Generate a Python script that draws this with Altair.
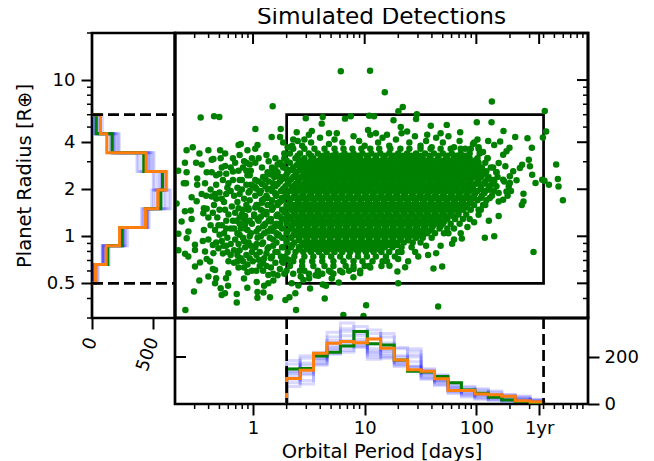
import altair as alt
import pandas as pd

# ---- scatter: log10(period), log10(radius)
sparse_outer = [
(.786,1.056),(1.048,1.059),(1.18,.922),(2.139,.862),(.176,.832),(1.341,.828),(1.302,.80),(2.613,.802),
(-.469,.76),(-.349,.768),(-.302,.764),(.472,.755),(.624,.764),(.824,.753),(.875,.768),(1.04,.772),(1.084,.768),
(1.467,.781),(1.46,.751),(1.258,.743),(2.004,.73),(2.136,.73),(.615,.721),(1.323,.7),(1.592,.708),(1.735,.713),
(.021,.687),(.248,.687),(2.243,.674),(2.625,.67),(1.855,.666),(.391,.666),(.526,.674),(.167,.636),(.242,.636),
(2.596,.632),(2.348,.636),(2.458,.627),(2.106,.61),(2.16,.584),(2.213,.606),(2.497,.567),(2.297,.567),
(2.715,.46),(2.73,.366),(2.736,.319),(2.775,.23),(2.422,.272),(2.422,.223),(2.407,.2),(2.512,-.1),(2.076,-.01),
(2.16,0),(2.2,.13),(2.112,.1),(2.02,.138),(1.87,-.014),(1.783,-.048),(1.64,-.108),(1.568,-.12),(1.452,-.1),
(1.616,-.206),(1.694,-.193),(1.362,-.198),(1.389,-.159),(1.3,-.146),(1.222,-.189),(1.293,-.225),(.959,-.236),
(.899,-.262),(1.3,-.3),(.768,-.296),(.705,-.27),(.696,-.228),(.624,-.309),(.654,-.317),(.511,-.334),(.585,-.253),
(.502,-.27),(.427,-.257),(.451,-.279),(.346,-.3),(.406,-.315),(.379,-.364),(.326,-.39),(.29,-.407),(.642,-.398),
(.385,-.471),(1.013,-.441),(1.658,-.45),(.809,-.503),(.989,-.51),
]
sparse_top = [
(.52,.60),(.6,.63),(.68,.59),(.73,.62),(.8,.60),(.9,.64),(.95,.61),(1.0,.58),(1.05,.65),(1.12,.6),(1.16,.63),
(1.22,.58),(1.28,.62),(1.33,.66),(1.4,.6),(1.45,.64),(1.5,.58),(1.55,.61),(1.6,.57),(1.64,.63),(1.7,.6),(1.75,.64),
(1.8,.57),(1.85,.61),(1.9,.56),(1.97,.59),(2.01,.62),(.44,.58),(.4,.61),(.5,.65),(.68,.66),(1.03,.68),(1.1,.66),
(1.2,.65),(1.38,.67),(1.56,.65),(1.68,.66),(.35,.58),(.46,.62),(.75,.66),
]
sparse_right = [
(2.09,.416),(2.24,.362),(2.30,.384),(2.36,.358),(2.33,.416),(2.41,.458),(2.39,.437),(2.48,.448),(2.47,.49),
(2.26,.448),(2.2,.469),(2.24,.522),(2.27,.544),(2.5,.394),(2.53,.341),(2.59,.362),(2.65,.33),(2.61,.356),
(2.12,.298),(2.2,.277),(2.27,.287),(2.2,.223),(2.24,.234),(2.12,.245),(2.3,.341),(2.15,.36),(2.18,.41),
(2.1,.5),(2.15,.44),(2.06,.54),(2.02,.57),(1.98,.60),(2.08,.2),(2.04,.17),(1.98,.09),(1.92,.06),(1.86,.02),
(1.8,-.02),(1.75,.02),(1.68,-.06),(1.55,-.06),(1.48,-.13),
]
sparse_left = [
(-.606,-.471),(-.146,-.424),(.039,-.394),(.152,-.39),(.093,-.36),(.039,-.356),(-.051,-.33),(-.281,-.375),
(-.251,-.364),(-.29,-.332),(-.224,-.317),(-.146,-.369),(-.529,-.353),(-.481,-.283),(-.4,-.257),(-.34,-.3),
(-.33,-.268),(-.242,-.268),(-.221,-.236),(-.081,-.27),(.033,-.292),(.137,-.247),(.182,-.283),(.137,-.3),
(.099,-.317),(-.52,-.193),(-.475,-.168),(-.34,-.215),(-.36,-.21),(-.58,-.129),(-.609,-.112),(-.669,-.09),
(-.415,-.146),(-.385,-.161),(-.43,-.097),(-.355,-.108),(-.52,-.087),(-.52,-.054),(-.594,-.012),(-.579,.031),
(-.669,.016),(-.36,-.055),(-.31,-.076),(-.265,-.06),(-.64,.095),(-.55,.11),(-.61,.16),(-.558,.165),(-.445,.148),
(-.415,.176),(-.685,.21),(-.55,.25),(-.505,.225),(-.46,.27),(-.37,.255),(-.34,.27),(-.595,.41),(-.61,.47),
(-.51,.47),(-.46,.46),(-.4,.55),(-.48,.53),(-.595,.55),(-.54,.57),(-.37,.49),(-.355,.495),(-.67,.42),(-.5,.37),
(-.415,.41),(-.37,.41),(-.295,.55),(-.25,.53),(-.29,.50),(-.25,.45),(-.60,.34),(-.62,.34),(-.5,.33),(-.43,.34),
(-.33,.39),(-.3,.40),(-.18,.415),(-.13,.585),(-.11,.59),(.04,.585),(-.18,.50),(-.12,.52),(.02,.56),(-.05,.55),
(-.22,.34),(-.2,.29),(-.3,.28),(-.26,.22),(-.35,.20),(-.4,.12),(-.32,.12),(-.28,.07),(-.22,.14),(-.2,.05),
(-.26,.02),(-.34,.04),(-.44,.04),(-.4,-.02),(-.45,-.03),(-.28,-.03),(-.2,-.05),(-.15,.10),(-.16,-.02),(-.23,-.1),
(-.17,-.09),(-.12,-.09),(-.11,-.14),(-.17,-.17),(-.09,-.16),(-.05,-.18),(0,-.16),(.06,-.19),(.03,-.22),(-.05,-.23),
(-.13,-.2),(.1,-.14),(.12,-.11),(.16,-.2),(.22,-.25),(.28,-.24),(.24,-.21),(-.12,.36),(-.06,.42),(-.03,.46),
(-.08,.48),(-.01,.5),(.08,.44),(.14,.48),(.2,.5),(.22,.46),(.12,.52),(.28,.53),(.31,.57),(.27,.60),(.36,.62),
(-.1,.30),(-.14,.22),(-.09,.17),(-.16,.15),(-.05,.39),(-.02,.33),
(-.28,.44),(-.24,.40),(-.2,.44),(-.16,.47),(-.13,.42),(-.09,.44),(-.06,.47),(-.02,.42),(.02,.47),(.05,.5),
(-.27,.36),(-.23,.31),(-.18,.36),(-.14,.31),(-.1,.36),(-.06,.33),(-.03,.39),(.02,.36),(-.33,.33),(-.28,.24),
(-.24,.27),(-.17,.26),(-.12,.27),(-.08,.24),(-.04,.28),(-.33,.24),(-.38,.3),(-.42,.26),(-.3,.17),(-.25,.17),
(-.19,.19),(-.13,.18),(-.07,.13),(-.04,.18),(-.36,.15),(-.44,.18),(-.24,.1),(-.18,.1),(-.12,.12),(-.07,.08),
(-.03,.1),(-.38,.07),(-.31,.07),(-.24,.05),(-.17,.05),(-.11,.05),(-.05,.04),(-.3,.01),(-.23,-.01),(-.12,.01),
(-.08,-.03),(-.03,0),(-.33,-.04),(-.24,-.06),(-.13,-.05),(-.07,-.07),(-.02,-.06),(-.27,-.11),(-.2,-.12),
(-.14,-.12),(-.06,-.12),(-.01,-.1),(.03,-.12),(-.22,-.16),(-.14,-.16),(-.03,-.14),(.05,-.15),(.09,-.17),
(.12,-.19),(.2,-.17),(.16,-.14),(-.01,-.22),(.09,-.22),(.18,-.24),(-.08,-.2),(.25,-.13),(.27,-.17),(.32,-.15),
(.3,-.22),(.36,-.24),(.42,-.22),(.5,-.24),(.56,-.25),(.62,-.24),(.72,-.24),(.8,-.23),(.9,-.21),(1.05,-.2),
(1.15,-.19),(1.2,-.16),(1.3,-.1),
(.02,.31),(.06,.28),(.1,.24),(.13,.3),(.18,.34),(.2,.27),(.24,.22),(.04,.2),(.09,.16),(.16,.2),(.21,.13),
(.01,.13),(.05,.1),(.1,.07),(.14,.1),(.19,.06),(.24,.08),(.03,.03),(.07,.0),(.13,.03),(.18,-.02),(.23,.01),
(.08,-.05),(.13,-.08),(.18,-.06),(.22,-.1),(.27,-.07),(.03,-.05),(.11,.38),(.17,.41),(.24,.38),(.3,.43),
]
# rows of the dense cloud: log10(radius) -> log10(period)
dense_rows = {
.56: [.36,.46,.55,.64,.73,.81,.89,.97,1.05,1.13,1.23,1.32,1.4,1.5,1.59,1.68,1.77,1.86,1.95,2.02],
.53: [.33,.42,.5,.58,.66,.74,.82,.9,.98,1.06,1.14,1.22,1.3,1.38,1.46,1.54,1.62,1.7,1.78,1.86,1.94,2.03],
.50: [.28,.38,.46,.54,.61,.68,.75,.82,.89,.96,1.03,1.1,1.17,1.24,1.31,1.38,1.45,1.52,1.59,1.66,1.73,1.8,1.87,1.94,2.01,2.1],
.47: [.24,.33,.41,.48,.55,.62,.69,.76,.83,.9,.97,1.04,1.11,1.18,1.25,1.32,1.39,1.46,1.53,1.6,1.67,1.74,1.81,1.88,1.95,2.02,2.08],
.44: [.17,.27,.36,.44,.51,.58,.65,.72,.79,.86,.93,1.0,1.07,1.14,1.21,1.28,1.35,1.42,1.49,1.56,1.63,1.7,1.77,1.84,1.91,1.98,2.05,2.13],
.41: [.13,.22,.31,.39,.47,.54,.61,.68,.75,.82,.89,.96,1.03,1.1,1.17,1.24,1.31,1.38,1.45,1.52,1.59,1.66,1.73,1.8,1.87,1.94,2.01,2.08,2.18],
.38: [.09,.19,.28,.36,.43,.5,.57,.64,.71,.78,.85,.92,.99,1.06,1.13,1.2,1.27,1.34,1.41,1.48,1.55,1.62,1.69,1.76,1.83,1.9,1.97,2.04,2.11,2.19],
.35: [.05,.14,.24,.32,.4,.47,.54,.61,.68,.75,.82,.89,.96,1.03,1.1,1.17,1.24,1.31,1.38,1.45,1.52,1.59,1.66,1.73,1.8,1.87,1.94,2.01,2.08,2.16,2.25],
.32: [.01,.11,.2,.29,.36,.43,.5,.57,.64,.71,.78,.85,.92,.99,1.06,1.13,1.2,1.27,1.34,1.41,1.48,1.55,1.62,1.69,1.76,1.83,1.9,1.97,2.04,2.11,2.18,2.29],
.29: [-.03,.07,.17,.25,.33,.4,.47,.54,.61,.68,.75,.82,.89,.96,1.03,1.1,1.17,1.24,1.31,1.38,1.45,1.52,1.59,1.66,1.73,1.8,1.87,1.94,2.01,2.08,2.16,2.31],
.26: [.02,.12,.21,.29,.37,.44,.51,.58,.65,.72,.79,.86,.93,1.0,1.07,1.14,1.21,1.28,1.35,1.42,1.49,1.56,1.63,1.7,1.77,1.84,1.91,1.98,2.05,2.14,2.28],
.23: [-.03,.08,.17,.26,.33,.4,.47,.54,.61,.68,.75,.82,.89,.96,1.03,1.1,1.17,1.24,1.31,1.38,1.45,1.52,1.59,1.66,1.73,1.8,1.87,1.94,2.01,2.09],
.20: [-.06,.03,.13,.22,.3,.37,.44,.51,.58,.65,.72,.79,.86,.93,1.0,1.07,1.14,1.21,1.28,1.35,1.42,1.49,1.56,1.63,1.7,1.77,1.84,1.91,1.98,2.06],
.17: [-.04,.07,.17,.26,.34,.41,.48,.55,.62,.69,.76,.83,.9,.97,1.04,1.11,1.18,1.25,1.32,1.39,1.46,1.53,1.6,1.67,1.74,1.81,1.88,1.95,2.02],
.14: [-.1,.01,.12,.22,.3,.37,.44,.51,.58,.65,.72,.79,.86,.93,1.0,1.07,1.14,1.21,1.28,1.35,1.42,1.49,1.56,1.63,1.7,1.77,1.84,1.91],
.11: [-.08,.04,.16,.26,.34,.41,.48,.55,.62,.69,.76,.83,.9,.97,1.04,1.11,1.18,1.25,1.32,1.39,1.46,1.53,1.6,1.67,1.74,1.81,1.88,1.94],
.08: [-.12,-.01,.11,.21,.3,.37,.44,.51,.58,.65,.72,.79,.86,.93,1.0,1.07,1.14,1.21,1.28,1.35,1.42,1.49,1.56,1.63,1.7,1.77,1.85],
.05: [-.07,.05,.16,.26,.34,.41,.48,.55,.62,.69,.76,.83,.9,.97,1.04,1.11,1.18,1.25,1.32,1.39,1.46,1.53,1.6,1.67,1.74,1.8],
.02: [-.14,-.02,.1,.21,.3,.37,.44,.51,.58,.65,.72,.79,.86,.93,1.0,1.07,1.14,1.21,1.28,1.35,1.42,1.49,1.56,1.63,1.71],
-.01: [-.09,.04,.15,.26,.34,.41,.48,.55,.62,.69,.76,.83,.9,.97,1.04,1.11,1.18,1.25,1.32,1.39,1.46,1.52,1.6],
-.04: [-.04,.09,.21,.3,.37,.44,.51,.58,.65,.72,.79,.86,.93,1.0,1.07,1.14,1.21,1.28,1.35,1.43,1.5],
-.07: [.02,.14,.26,.34,.41,.48,.55,.62,.69,.76,.83,.9,.97,1.04,1.11,1.18,1.25,1.33,1.42],
-.10: [.06,.2,.31,.38,.45,.52,.59,.66,.73,.8,.87,.94,1.01,1.08,1.15,1.22,1.33],
-.13: [.17,.29,.37,.46,.54,.62,.7,.78,.86,.94,1.02,1.1,1.19,1.27],
-.16: [.26,.36,.44,.53,.62,.72,.81,.9,.98,1.07,1.16],
-.19: [.33,.44,.54,.64,.72,.83,.9,1.0,1.04],
-.22: [.46,.58,.68,.78,.86,.96],
# in-between rows that close the gaps of the solid core
.515: [.4,.52,.63,.71,.79,.86,.94,1.02,1.1,1.18,1.26,1.34,1.42,1.5,1.58,1.66,1.74,1.82,1.9],
.485: [.3,.43,.52,.59,.66,.73,.8,.87,.94,1.01,1.08,1.15,1.22,1.29,1.36,1.43,1.5,1.57,1.64,1.71,1.78,1.85,1.92,1.99],
.455: [.26,.39,.46,.53,.6,.67,.74,.81,.88,.95,1.02,1.09,1.16,1.23,1.3,1.37,1.44,1.51,1.58,1.65,1.72,1.79,1.86,1.93,2.0],
.425: [.2,.34,.42,.49,.56,.63,.7,.77,.84,.91,.98,1.05,1.12,1.19,1.26,1.33,1.4,1.47,1.54,1.61,1.68,1.75,1.82,1.89,1.96,2.03],
.395: [.16,.3,.38,.45,.52,.59,.66,.73,.8,.87,.94,1.01,1.08,1.15,1.22,1.29,1.36,1.43,1.5,1.57,1.64,1.71,1.78,1.85,1.92,1.99,2.06],
.365: [.11,.26,.34,.41,.48,.55,.62,.69,.76,.83,.9,.97,1.04,1.11,1.18,1.25,1.32,1.39,1.46,1.53,1.6,1.67,1.74,1.81,1.88,1.95,2.02,2.1],
.335: [.08,.22,.31,.38,.45,.52,.59,.66,.73,.8,.87,.94,1.01,1.08,1.15,1.22,1.29,1.36,1.43,1.5,1.57,1.64,1.71,1.78,1.85,1.92,1.99,2.06,2.14],
.305: [.03,.16,.27,.36,.43,.5,.57,.64,.71,.78,.85,.92,.99,1.06,1.13,1.2,1.27,1.34,1.41,1.48,1.55,1.62,1.69,1.76,1.83,1.9,1.97,2.04,2.12],
.275: [.06,.2,.3,.38,.45,.52,.59,.66,.73,.8,.87,.94,1.01,1.08,1.15,1.22,1.29,1.36,1.43,1.5,1.57,1.64,1.71,1.78,1.85,1.92,1.99,2.07],
.245: [.13,.26,.36,.43,.5,.57,.64,.71,.78,.85,.92,.99,1.06,1.13,1.2,1.27,1.34,1.41,1.48,1.55,1.62,1.69,1.76,1.83,1.9,1.97,2.04],
.215: [.08,.22,.33,.41,.48,.55,.62,.69,.76,.83,.9,.97,1.04,1.11,1.18,1.25,1.32,1.39,1.46,1.53,1.6,1.67,1.74,1.81,1.88,1.95],
.185: [.02,.18,.3,.38,.45,.52,.59,.66,.73,.8,.87,.94,1.01,1.08,1.15,1.22,1.29,1.36,1.43,1.5,1.57,1.64,1.71,1.78,1.85,1.92],
.155: [.12,.28,.37,.44,.51,.58,.65,.72,.79,.86,.93,1.0,1.07,1.14,1.21,1.28,1.35,1.42,1.49,1.56,1.63,1.7,1.77,1.84],
.125: [.07,.24,.34,.41,.48,.55,.62,.69,.76,.83,.9,.97,1.04,1.11,1.18,1.25,1.32,1.39,1.46,1.53,1.6,1.67,1.74,1.8],
.095: [.16,.3,.38,.45,.52,.59,.66,.73,.8,.87,.94,1.01,1.08,1.15,1.22,1.29,1.36,1.43,1.5,1.57,1.64,1.71],
.065: [.09,.24,.35,.42,.49,.56,.63,.7,.77,.84,.91,.98,1.05,1.12,1.19,1.26,1.33,1.4,1.47,1.54,1.61,1.68],
.035: [.17,.31,.39,.46,.53,.6,.67,.74,.81,.88,.95,1.02,1.09,1.16,1.23,1.3,1.37,1.44,1.51,1.58],
.005: [.22,.36,.44,.51,.58,.65,.72,.79,.86,.93,1.0,1.07,1.14,1.21,1.28,1.35,1.42,1.49],
-.025: [.3,.41,.48,.55,.62,.69,.76,.83,.9,.97,1.04,1.11,1.18,1.25,1.32,1.39],
-.055: [.35,.45,.52,.59,.66,.73,.8,.87,.94,1.01,1.08,1.15,1.22,1.29],
-.085: [.42,.5,.57,.64,.71,.78,.85,.92,.99,1.06,1.13],
# extra rows of the core, where the cloud is solid
.432: [.5,.575,.645,.715,.785,.855,.925,.995,1.065,1.135,1.205,1.275,1.345,1.415,1.485,1.555,1.625,1.695,1.765,1.835],
.372: [.42,.495,.565,.635,.705,.775,.845,.915,.985,1.055,1.125,1.195,1.265,1.335,1.405,1.475,1.545,1.615,1.685,1.755,1.825,1.895],
.312: [.35,.415,.485,.555,.625,.695,.765,.835,.905,.975,1.045,1.115,1.185,1.255,1.325,1.395,1.465,1.535,1.605,1.675,1.745,1.815,1.885,1.955],
.252: [.31,.385,.455,.525,.595,.665,.735,.805,.875,.945,1.015,1.085,1.155,1.225,1.295,1.365,1.435,1.505,1.575,1.645,1.715,1.785,1.855,1.925],
.192: [.35,.415,.485,.555,.625,.695,.765,.835,.905,.975,1.045,1.115,1.185,1.255,1.325,1.395,1.465,1.535,1.605,1.675,1.745,1.815,1.885],
.132: [.31,.385,.455,.525,.595,.665,.735,.805,.875,.945,1.015,1.085,1.155,1.225,1.295,1.365,1.435,1.505,1.575,1.645,1.715,1.785],
.072: [.35,.415,.485,.555,.625,.695,.765,.835,.905,.975,1.045,1.115,1.185,1.255,1.325,1.395,1.465,1.535,1.605,1.675],
.012: [.4,.475,.545,.615,.685,.755,.825,.895,.965,1.035,1.105,1.175,1.245,1.315,1.385,1.455,1.525],
-.048: [.46,.535,.605,.675,.745,.815,.885,.955,1.025,1.095,1.165,1.235],
}

# ---- histograms
radius_edges = [0.5, 0.66, 0.87, 1.14, 1.5, 1.98, 2.6, 3.42, 4.53, 6.0]
period_edges = [2.0, 2.64, 3.48, 4.6, 6.06, 8.0, 10.56, 13.9, 18.4, 24.2, 32.0, 42.2, 55.7, 73.5, 97.0,
                128.0, 169.0, 223.0, 303.0, 400.0]
radius_obs = [20, 129, 245, 435, 560, 573, 421, 164, 34]
radius_model = [28, 115, 224, 435, 535, 603, 440, 120, 69]
radius_sims = [
 [18,92,250,445,560,570,460,175,30],[22,88,255,450,540,585,455,180,25],[12,85,240,440,585,560,470,165,35],
 [30,95,275,420,500,600,400,200,18],[45,110,262,455,625,530,495,150,55],[15,125,232,410,485,610,375,215,70],
 [25,98,290,465,640,505,440,190,40],[52,140,245,430,520,550,505,145,85],[20,90,268,448,600,575,365,172,12],
 [35,82,252,402,555,498,480,222,48],
]
period_obs = [149,151,204,220,247,309,256,251,187,139,136,117,90,60,46,29,17,11,6]
period_model = [109,144,216,259,266,261,277,237,187,146,139,107,57,57,43,39,33,14,10]
period_sims = [
 [140,150,190,235,240,250,225,240,175,160,130,100,70,55,40,35,22,18,10],
 [135,130,185,228,228,258,218,225,170,162,128,95,72,50,45,38,20,14,9],
 [150,125,200,240,250,245,235,230,180,155,135,105,65,60,38,30,25,16,12],
 [120,165,175,260,290,275,200,205,165,200,115,90,85,45,60,28,15,22,8],
 [90,195,215,305,345,300,255,285,235,235,150,120,50,70,30,50,35,10,18],
 [170,100,165,215,220,240,315,200,200,140,108,82,90,35,65,20,40,30,6],
 [75,140,210,285,320,330,190,300,160,225,145,125,60,75,25,55,10,34,15],
 [185,85,195,270,270,310,280,260,240,180,105,110,45,30,52,18,30,8,20],
 [130,205,170,250,310,265,210,195,185,145,140,80,78,40,20,42,12,26,5],
 [105,175,220,212,260,290,300,215,205,210,120,98,55,62,35,15,38,20,13],
]

period_major = [1, 10, 100, 365]
period_minor = [.3,.4,.5,.6,.7,.8,.9,2,3,4,5,6,7,8,9,20,30,40,50,60,70,80,90,200,300,400,500,600,700,800,900]
radius_major = [0.5, 1, 2, 4, 10]
radius_minor = [.3,.4,.6,.7,.8,.9,3,5,6,7,8,9,20]

FONT = "DejaVu Sans"
LEFT_W, MAIN_W, MAIN_H, BOT_H = 83, 413, 285, 86
LW = 2.7

xs = alt.Scale(type="log", domain=[0.2, 1000], nice=False)
ys = alt.Scale(type="log", domain=[0.3, 20], nice=False)
cxs = alt.Scale(domain=[0, 675], nice=False)
cys = alt.Scale(domain=[0, 366], nice=False)

rows = [(10 ** p, 10 ** r) for p, r in sparse_outer + sparse_top + sparse_right + sparse_left]
rows += [(10 ** p, 10 ** r) for r, ps in dense_rows.items() for p in ps]
pts = pd.DataFrame(rows, columns=["period", "radius"])


def steps(edges, counts, name):
    out = [(edges[0], 0, name, 0)]
    for i, c in enumerate(counts):
        out.append((edges[i], c, name, len(out)))
        out.append((edges[i + 1], c, name, len(out)))
    out.append((edges[-1], 0, name, len(out)))
    return out


def hist_df(edges, obs, model, sims):
    r = []
    for k, s in enumerate(sims):
        r += steps(edges, s, f"s{k}")
    r += steps(edges, obs, "obs") + steps(edges, model, "model")
    return pd.DataFrame(r, columns=["edge", "count", "series", "i"])


rdf = hist_df(radius_edges, radius_obs, radius_model, radius_sims)
pdf = hist_df(period_edges, period_obs, period_model, period_sims)
line = dict(strokeJoin="miter", strokeCap="butt", strokeWidth=3)
SIM, OBS, MOD = "#0000ff", "#008000", "#ff7f0e"


def vals(v):
    return pd.DataFrame({"v": v})


# ---- left panel
def left_lines(df, series_filter, **kw):
    return alt.Chart(df).transform_filter(series_filter).mark_line(**line, **kw).encode(
        x=alt.X("count:Q", scale=cxs, axis=None),
        y=alt.Y("edge:Q", scale=ys, axis=None),
        detail="series:N",
        order="i:Q",
    )


left_axis = alt.Chart(vals([1])).mark_point(opacity=0).encode(
    x=alt.X("v:Q", scale=cxs, axis=alt.Axis(
        values=[0, 500], title=None, grid=False, domain=False, tickSize=11, tickWidth=2, tickColor="black",
        labelFontSize=18, labelFont=FONT, labelColor="black", labelAngle=290, labelAlign="right",
        labelBaseline="middle", labelPadding=9, labelFlush=False, labelOverlap=False)),
    y=alt.Y("v:Q", scale=ys, axis=alt.Axis(
        values=radius_major, format="~g", title="Planet Radius [R⊕]", grid=False, domain=False,
        tickSize=11, tickWidth=2, tickColor="black", labelFontSize=18, labelFont=FONT, labelColor="black",
        labelOverlap=False, labelFlush=False, labelPadding=6, titleFontSize=19.5, titleFont=FONT,
        titleFontWeight="normal", titleColor="black", titlePadding=12)),
)
left_minor = alt.Chart(vals(radius_minor)).mark_rule(color="black", strokeWidth=1.5).encode(
    y=alt.Y("v:Q", scale=ys, axis=None), x=alt.value(-5), x2=alt.value(0))
left_dash = alt.Chart(vals([0.5, 6])).mark_rule(color="black", strokeWidth=LW, strokeDash=[11, 5]).encode(
    y=alt.Y("v:Q", scale=ys, axis=None), x=alt.value(0), x2=alt.value(LEFT_W))
left = alt.layer(
    left_axis,
    left_lines(rdf, "indexof(datum.series,'s')==0", color=SIM, opacity=0.15),
    left_lines(rdf, "datum.series=='obs'", color=OBS),
    left_lines(rdf, "datum.series=='model'", color=MOD),
    left_minor, left_dash,
).resolve_axis(x="independent", y="independent").properties(width=LEFT_W, height=MAIN_H)

# ---- main panel
box_df = pd.DataFrame({"x0": [2], "x1": [400], "y0": [0.5], "y1": [6]})
box = alt.Chart(box_df).mark_rect(fillOpacity=0, stroke="black", strokeWidth=LW).encode(
    x=alt.X("x0:Q", scale=xs, axis=None), x2="x1:Q",
    y=alt.Y("y0:Q", scale=ys, axis=None), y2="y1:Q")
scatter = alt.Chart(pts).mark_circle(size=42, color=OBS, opacity=1, clip=True).encode(
    x=alt.X("period:Q", scale=xs, axis=None), y=alt.Y("radius:Q", scale=ys, axis=None))
frame = alt.Chart(vals([1])).mark_rect(fillOpacity=0, stroke="black", strokeWidth=LW).encode(
    x=alt.value(0), x2=alt.value(MAIN_W), y=alt.value(0), y2=alt.value(MAIN_H))


def top_ticks(v, n, w):
    return alt.Chart(vals(v)).mark_rule(color="black", strokeWidth=w).encode(
        x=alt.X("v:Q", scale=xs, axis=None), y=alt.value(0), y2=alt.value(n))


def right_ticks(v, n, w):
    return alt.Chart(vals(v)).mark_rule(color="black", strokeWidth=w).encode(
        y=alt.Y("v:Q", scale=ys, axis=None), x=alt.value(MAIN_W - n), x2=alt.value(MAIN_W))


main = alt.layer(
    box, scatter, frame,
    top_ticks(period_major, 11, 2), top_ticks(period_minor, 5, 1.5),
    right_ticks(radius_major, 11, 2), right_ticks(radius_minor, 5, 1.5),
).properties(
    width=MAIN_W, height=MAIN_H,
    title=alt.TitleParams("Simulated Detections", fontSize=23.2, font=FONT, fontWeight="normal", color="black",
                          anchor="middle", offset=2),
)

# ---- bottom panel


def bottom_lines(df, series_filter, **kw):
    return alt.Chart(df).transform_filter(series_filter).mark_line(**line, **kw).encode(
        x=alt.X("edge:Q", scale=xs, axis=None),
        y=alt.Y("count:Q", scale=cys, axis=None),
        detail="series:N",
        order="i:Q",
    )


bottom_axis = alt.Chart(vals([1])).mark_point(opacity=0).encode(
    x=alt.X("v:Q", scale=xs, axis=alt.Axis(
        values=period_major, format="~g", labelExpr="datum.value==365?'1yr':datum.label",
        title="Orbital Period [days]", grid=False, domain=False, tickSize=11, tickWidth=2, tickColor="black",
        labelFontSize=18, labelFont=FONT, labelColor="black", labelOverlap=False, labelFlush=False, labelPadding=4,
        titleFontSize=19.5, titleFont=FONT, titleFontWeight="normal", titleColor="black", titlePadding=5)),
    y=alt.Y("v:Q", scale=cys, axis=alt.Axis(
        orient="right", values=[0, 200], title=None, grid=False, domain=False, tickSize=11, tickWidth=2,
        tickColor="black", labelFontSize=18, labelFont=FONT, labelColor="black", labelOverlap=False,
        labelFlush=False, labelBaseline="middle", labelPadding=5)),
)
bottom_minor = alt.Chart(vals(period_minor)).mark_rule(color="black", strokeWidth=1.5).encode(
    x=alt.X("v:Q", scale=xs, axis=None), y=alt.value(BOT_H), y2=alt.value(BOT_H + 5))
bottom_inner = alt.Chart(vals([200])).mark_rule(color="black", strokeWidth=2).encode(
    y=alt.Y("v:Q", scale=cys, axis=None), x=alt.value(0), x2=alt.value(11))
bottom_dash = alt.Chart(vals([2, 400])).mark_rule(color="black", strokeWidth=LW, strokeDash=[11, 5]).encode(
    x=alt.X("v:Q", scale=xs, axis=None), y=alt.value(0), y2=alt.value(BOT_H))
bottom = alt.layer(
    bottom_axis,
    bottom_lines(pdf, "indexof(datum.series,'s')==0", color=SIM, opacity=0.15),
    bottom_lines(pdf, "datum.series=='obs'", color=OBS),
    bottom_lines(pdf, "datum.series=='model'", color=MOD),
    bottom_minor, bottom_inner, bottom_dash,
).resolve_axis(x="independent", y="independent").properties(width=MAIN_W, height=BOT_H)

blank = alt.Chart(vals([1])).mark_point(opacity=0).encode(
    x=alt.X("v:Q", axis=None), y=alt.Y("v:Q", axis=None)
).properties(width=LEFT_W, height=BOT_H, view=alt.ViewConfig(stroke="transparent"))

chart = alt.concat(left, main, blank, bottom, columns=2, spacing=0, bounds="flush").configure_view(
    stroke="black", strokeWidth=LW
).properties(background="white", padding={"left": 5, "right": 0, "top": -4, "bottom": 2})

chart.save("out.html", embed_options={"renderer": "svg", "actions": False})
